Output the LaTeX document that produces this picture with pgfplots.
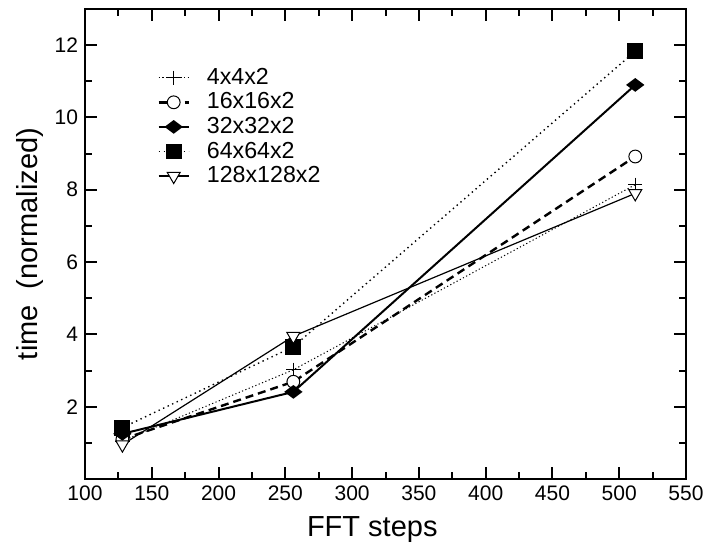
\documentclass[border=0pt]{standalone}
\usepackage{fontspec}
\setmainfont{Liberation Sans}
\usepackage{pgfplots}
\pgfplotsset{compat=1.18}
\usetikzlibrary{calc}

\begin{document}
\begin{tikzpicture}
\begin{axis}[
    width=300.5pt, height=235pt,
    scale only axis,
    xmin=100, xmax=550,
    ymin=0, ymax=13,
    xtick={100,150,...,550},
    minor xtick={125,175,...,525},
    ytick={2,4,...,12},
    minor ytick={1,3,...,11},
    tick align=inside,
    major tick length=6pt,
    minor tick length=3.5pt,
    every tick/.style={line width=1pt, black},
    axis line style={line width=1.2pt},
    tick label style={font=\fontsize{10.5}{12}\selectfont},
    /pgf/number format/assume math mode=true,
    xlabel={FFT steps},
    ylabel={time\ \ (normalized)},
    label style={font=\fontsize{14.5}{16}\selectfont},
    xlabel style={at={(axis description cs:0.478,-0.1085)}, anchor=center},
    ylabel style={at={(axis description cs:-0.0915,0.5)}, anchor=center},
    legend style={draw=none, fill=none, at={(axis description cs:0.11,0.89)},
      anchor=north west, font=\fontsize{11.6}{13}\selectfont,
      row sep=-0.3pt, nodes={inner sep=1.5pt}},
    legend cell align=left,
    legend image code/.code={\draw[mark repeat=2,mark phase=2,#1]
      plot coordinates {(0pt,0pt) (7.5pt,0pt) (15pt,0pt)};
      \path (22pt,0pt);},
]
\coordinate (bl) at (rel axis cs:0,0);
\coordinate (tr) at (rel axis cs:1,1);

% 4x4x2
\addplot[black, line width=0.5pt, dash pattern=on 0.6pt off 1.2pt,
  mark=+, mark size=3.6pt, mark options={solid, line width=0.5pt}]
  coordinates {(128,1.05) (256,3.02) (512,8.14)};
% 16x16x2
\addplot[black, line width=1.2pt, dash pattern=on 4pt off 2.5pt,
  mark=*, mark size=3.2pt, mark options={solid, line width=0.5pt, draw=black, fill=white}]
  coordinates {(128,1.1) (256,2.69) (512,8.92)};
% 32x32x2
\addplot[black, line width=1pt,
  mark=diamond*, mark size=3.75pt, mark options={solid, rotate=90}]
  coordinates {(128,1.25) (256,2.41) (512,10.9)};
% 64x64x2
\addplot[black, line width=0.7pt, dash pattern=on 0.7pt off 1.8pt,
  mark=square*, mark size=3.6pt, mark options={solid}]
  coordinates {(128,1.42) (256,3.66) (512,11.83)};
% 128x128x2
\addplot[black, line width=0.6pt,
  mark=triangle*, mark size=3.75pt, mark options={solid, rotate=180, draw=black, fill=white, line width=0.5pt}]
  coordinates {(128,0.95) (256,3.95) (512,7.9)};

\legend{4x4x2, 16x16x2, 32x32x2, 64x64x2, 128x128x2}
\end{axis}
\pgfresetboundingbox
\path ($(bl)+(-42.5pt,-33.5pt)$) rectangle ($(tr)+(8.5pt,4.5pt)$);
\end{tikzpicture}
\end{document}
